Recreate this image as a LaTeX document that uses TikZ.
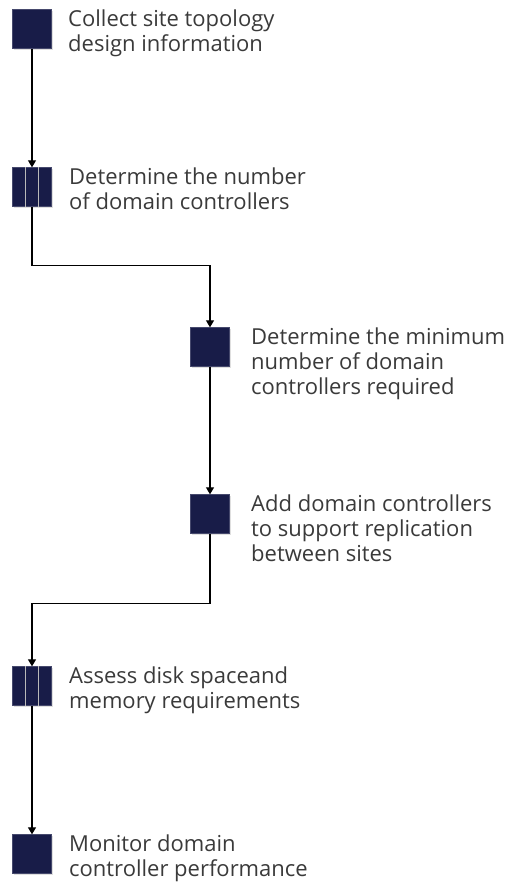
\documentclass[tikz,border=0pt]{standalone}
\usepackage{fontspec}
\setmainfont{Open Sans}
\usepackage{tikz}
\usetikzlibrary{arrows.meta,shadows}

\definecolor{boxnavy}{HTML}{181C48}
\definecolor{textgray}{HTML}{3A3A3A}

\begin{document}
\begin{tikzpicture}[x=1pt, y=-1pt, >={Triangle[length=7pt,width=8pt]}]
    \useasboundingbox (0,0) rectangle (510,884);
    \tikzset{
      stepbox/.style={draw=boxnavy!80, fill=boxnavy, minimum size=39pt, inner sep=0pt,
        drop shadow={opacity=0.25, shadow xshift=1.5pt, shadow yshift=-1.5pt}},
      divider/.style={color=gray!55, line width=1.3pt},
      steptext/.style={anchor=north west, align=left, inner sep=0pt, text=textgray,
        font=\fontsize{22}{25}\selectfont},
      flow/.style={->, line width=1.2pt, color=black}
    }
    % boxes
    \node[stepbox] (b1) at (32,29) {};
    \node[stepbox] (b2) at (32,187) {};
    \node[stepbox] (b3) at (210,347) {};
    \node[stepbox] (b4) at (210,514) {};
    \node[stepbox] (b5) at (32,686) {};
    \node[stepbox] (b6) at (32,854) {};
    \foreach \n in {b2,b5}
    \foreach \i in {-6.5,6.5}
    \draw[divider] ([xshift=\i pt]\n.north) -- ([xshift=\i pt]\n.south);
    % texts
    \node[steptext] (t1) at (68,10) {Collect site topology\\design information};
    \node[steptext] (t2) at (69,168) {Determine the number\\of domain controllers};
    \node[steptext] (t3) at (251,328) {Determine the minimum\\number of domain\\controllers required};
    \node[steptext] (t4) at (251,495) {Add domain controllers\\to support replication\\between sites};
    \node[steptext] (t5) at (69,667) {Assess disk spaceand\\memory requirements};
    \node[steptext] (t6) at (69,835) {Monitor domain\\controller performance};
    % connectors
    \draw[flow] (b1.south) -- (b2.north);
    \draw[flow] (b2.south) -- ++(0,59) -| (b3.north);
    \draw[flow] (b3.south) -- (b4.north);
    \draw[flow] (b4.south) -- ++(0,70) -| (b5.north);
    \draw[flow] (b5.south) -- (b6.north);
  \end{tikzpicture}
\end{document}
